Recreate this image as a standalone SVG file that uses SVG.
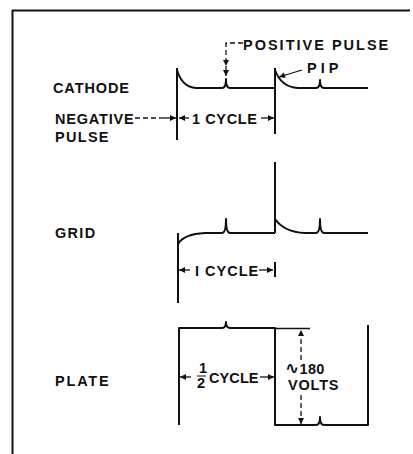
<svg xmlns="http://www.w3.org/2000/svg" width="413" height="454" viewBox="0 0 413 454">
<defs>
<marker id="ah" viewBox="0 0 10 10" refX="10" refY="5" markerWidth="7" markerHeight="6" markerUnits="userSpaceOnUse" orient="auto">
<path d="M0,0 L10,5 L0,10 Z" fill="#111"/>
</marker>
<style>
.w{fill:none;stroke:#111;stroke-width:2;stroke-linejoin:round;stroke-linecap:butt}
.t{font-family:"Liberation Sans",Arial,sans-serif;font-weight:bold;font-size:14.5px;fill:#111}
.d{fill:none;stroke:#111;stroke-width:1.3}
.dash{stroke-dasharray:5,3}
</style>
</defs>
<rect width="413" height="454" fill="#fff"/>
<g id="frame">
<path class="w" d="M12.5,454 V10.5 H410" stroke-width="2.2"/>
</g>
<g id="cathode">
<text class="t" x="53" y="93" letter-spacing="0.9">CATHODE</text>
<path class="w" d="M177,68 V140"/>
<path class="w" d="M177,70 Q182,87 196,88 H222 Q226,88 226,79 Q226,88 230,88 H275"/>
<path class="w" d="M275,68 V134"/>
<path class="w" d="M275,70 Q281,87 298,88 H316 Q320,88 320,80 Q320,88 324,88 H368"/>
</g>
<g id="grid">
<text class="t" x="55" y="238" letter-spacing="1.3">GRID</text>
<path class="w" d="M178,233 V303"/>
<path class="w" d="M178,244 Q184,234 205,233 H222 Q226,233 226,219 Q226,233 230,233 H275"/>
<path class="w" d="M275,162 V233"/>
<path class="w" d="M275,219 Q284,232 305,233 H316 Q320,233 320,219 Q320,233 324,233 H368"/>
</g>
<g id="plate">
<text class="t" x="55" y="386" letter-spacing="1.8">PLATE</text>
<path class="w" d="M179,425 V328 H222 Q226,328 226,322 Q226,328 230,328 H275 V425 H316 Q320,425 320,417 Q320,425 324,425 H368 V325"/>
</g>
<g id="connectors">
<path class="d dash" d="M243,43 H226 V66" marker-end="url(#ah)" stroke-dasharray="4,3"/>
<path class="d" d="M226,66 V76" marker-end="url(#ah)"/>
<path class="d" d="M302,70 L279,77" marker-end="url(#ah)"/>
<path class="d dash" d="M135,118 H160"/>
<path class="d" d="M160,118 H176" marker-end="url(#ah)"/>
<path class="d" d="M189,118 H179" marker-end="url(#ah)"/>
<path class="d" d="M261,118 H274" marker-end="url(#ah)"/>
<path class="d" d="M190,270 H179" marker-end="url(#ah)"/>
<path class="d" d="M259,270 H273" marker-end="url(#ah)"/>
<path class="w" d="M275,262 V277" stroke-width="1.8"/>
<path class="d" d="M191,377 H180" marker-end="url(#ah)"/>
<path class="d" d="M260,377 H274" marker-end="url(#ah)"/>
<path class="d" d="M275,328.5 H310"/>
<path class="d dash" d="M301,360 V330" marker-end="url(#ah)"/>
<path class="d dash" d="M301,395 V424" marker-end="url(#ah)"/>
</g>
<g id="labels">
<text class="t" x="243" y="50" letter-spacing="2">POSITIVE PULSE</text>
<text class="t" x="307" y="73" font-size="12" letter-spacing="4">PIP</text>
<text class="t" x="55" y="124" letter-spacing="0.8">NEGATIVE</text>
<text class="t" x="55" y="142" letter-spacing="1.3">PULSE</text>
<text class="t" x="192" y="124" letter-spacing="0.6">1 CYCLE</text>
<text class="t" x="195" y="276" letter-spacing="1">I CYCLE</text>
<text class="t" x="199" y="373" font-size="7">1</text>
<path d="M197,376 H206" stroke="#111" stroke-width="1"/>
<text class="t" x="197" y="388" font-size="10">2</text>
<text class="t" x="209" y="383" letter-spacing="0.1">CYCLE</text>
<text class="t" x="285" y="374" letter-spacing="0.3"><tspan font-family="DejaVu Sans,sans-serif" font-size="17">∿</tspan>180</text>
<text class="t" x="288" y="390" letter-spacing="0.8">VOLTS</text>
</g>
</svg>
